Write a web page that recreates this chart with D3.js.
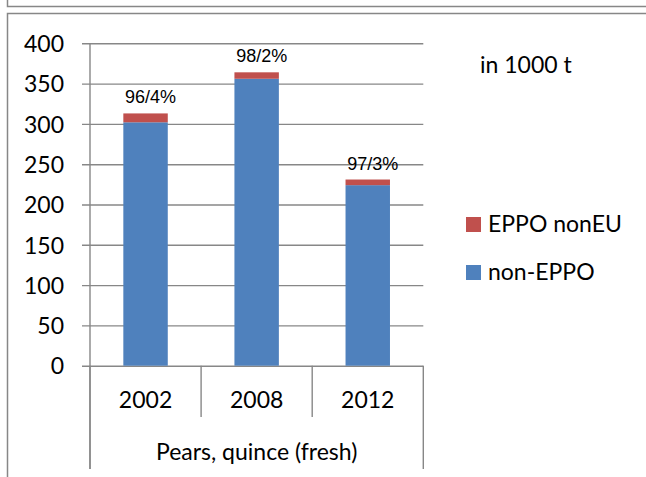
<!DOCTYPE html>
<html>
<head>
<meta charset="utf-8">
<script src="https://cdn.jsdelivr.net/npm/d3@7"></script>
<style>
    body { margin: 0; background: #fff; }
    svg { display: block; }
    .cal { font-family: Lato, "Open Sans", sans-serif; font-size: 23px; fill: #000; }
    .pct { font-family: "Liberation Sans", Arial, sans-serif; font-size: 18px; fill: #000; }
</style>
</head>
<body>
<div id="chart"></div>
<script>
// data (1000 t)
const years = ['2002', '2008', '2012'];
const nonEppo = [302, 356, 224];
const eppoNonEu = [11, 8, 7];
const shareLabels = ['96/4%', '98/2%', '97/3%'];
const yTicks = [0, 50, 100, 150, 200, 250, 300, 350, 400];
const seriesNames = ['EPPO nonEU', 'non-EPPO'];
const groupLabel = 'Pears, quince (fresh)';
const unitLabel = 'in 1000 t';

const W = 646, H = 477;
const gray = '#878787';
const colors = { nonEppo: '#4f81bd', eppoNonEu: '#c0504d' };

const svg = d3.select('#chart').append('svg')
    .attr('width', W)
    .attr('height', H);

// frame of the previous box and the chart box
svg.append('path')
    .attr('d', `M7.5,0V6.5H${W}`)
    .attr('fill', 'none').attr('stroke', gray).attr('stroke-width', 1.5);
svg.append('path')
    .attr('d', `M${W},13.5H7.5V${H}`)
    .attr('fill', 'none').attr('stroke', gray).attr('stroke-width', 1.5);

const plotLeft = 90, plotRight = 423.3, plotTop = 43.3, plotBottom = 365.7;

const x = d3.scaleBand()
    .domain(years)
    .range([plotLeft, plotRight])
    .padding(0);

const y = d3.scaleLinear()
    .domain([0, 400])
    .range([plotBottom, plotTop]);

// gridlines + tick labels
const yAxis = svg.append('g')
    .attr('transform', `translate(${plotLeft},0)`)
    .call(d3.axisLeft(y).tickValues(yTicks).tickSizeInner(-(plotRight - plotLeft)).tickSizeOuter(0).tickPadding(26));
yAxis.select('.domain').remove();
yAxis.selectAll('.tick line')
    .attr('x1', -8)
    .attr('x2', plotRight - plotLeft)
    .attr('stroke', gray)
    .attr('stroke-width', 1.4);
yAxis.selectAll('.tick text')
    .attr('class', 'cal')
    .attr('dy', '0.36em')
    .style('font-family', 'Lato, sans-serif')
    .style('font-size', '23px');

// stacked bars
const rows = years.map((yr, i) => ({ year: yr, nonEppo: nonEppo[i], eppoNonEu: eppoNonEu[i] }));
const stack = d3.stack().keys(['nonEppo', 'eppoNonEu'])(rows);
const barW = x.bandwidth() * 0.4;

svg.append('g')
    .selectAll('g')
    .data(stack)
    .join('g')
    .attr('fill', d => colors[d.key])
    .selectAll('rect')
    .data(d => d)
    .join('rect')
    .attr('x', d => x(d.data.year) + (x.bandwidth() - barW) / 2)
    .attr('width', barW)
    .attr('y', d => y(d[1]))
    .attr('height', d => y(d[0]) - y(d[1]));

// share labels above bars
svg.append('g')
    .selectAll('text')
    .data(rows)
    .join('text')
    .attr('class', 'pct')
    .attr('text-anchor', 'middle')
    .attr('x', d => x(d.year) + x.bandwidth() / 2 + 5)
    .attr('y', d => y(d.nonEppo + d.eppoNonEu) - 10)
    .text((d, i) => shareLabels[i]);

// y axis line
svg.append('line')
    .attr('x1', plotLeft).attr('x2', plotLeft)
    .attr('y1', plotTop).attr('y2', 469)
    .attr('stroke', gray).attr('stroke-width', 1.4);

// category separators
const seps = years.map(yr => x(yr)).concat([plotRight]);
svg.append('g')
    .selectAll('line')
    .data(seps)
    .join('line')
    .attr('x1', d => d).attr('x2', d => d)
    .attr('y1', plotBottom)
    .attr('y2', (d, i) => (i === 0 || i === seps.length - 1) ? 469 : 417)
    .attr('stroke', gray).attr('stroke-width', 1.4);

// year labels
svg.append('g')
    .selectAll('text')
    .data(years)
    .join('text')
    .attr('class', 'cal')
    .attr('text-anchor', 'middle')
    .attr('x', d => x(d) + x.bandwidth() / 2)
    .attr('y', 408)
    .text(d => d);

svg.append('text')
    .attr('class', 'cal')
    .attr('text-anchor', 'middle')
    .attr('x', (plotLeft + plotRight) / 2)
    .attr('y', 459.5)
    .text(groupLabel);

svg.append('text')
    .attr('class', 'cal')
    .attr('x', 480)
    .attr('y', 73.3)
    .text(unitLabel);

// legend
const legendColors = [colors.eppoNonEu, colors.nonEppo];
const legend = svg.append('g')
    .selectAll('g')
    .data(seriesNames)
    .join('g')
    .attr('transform', (d, i) => `translate(466,${217 + i * 48})`);
legend.append('rect')
    .attr('width', 15).attr('height', 15)
    .attr('fill', (d, i) => legendColors[i]);
legend.append('text')
    .attr('class', 'cal')
    .attr('x', 22)
    .attr('y', 15)
    .text(d => d);
</script>
</body>
</html>
